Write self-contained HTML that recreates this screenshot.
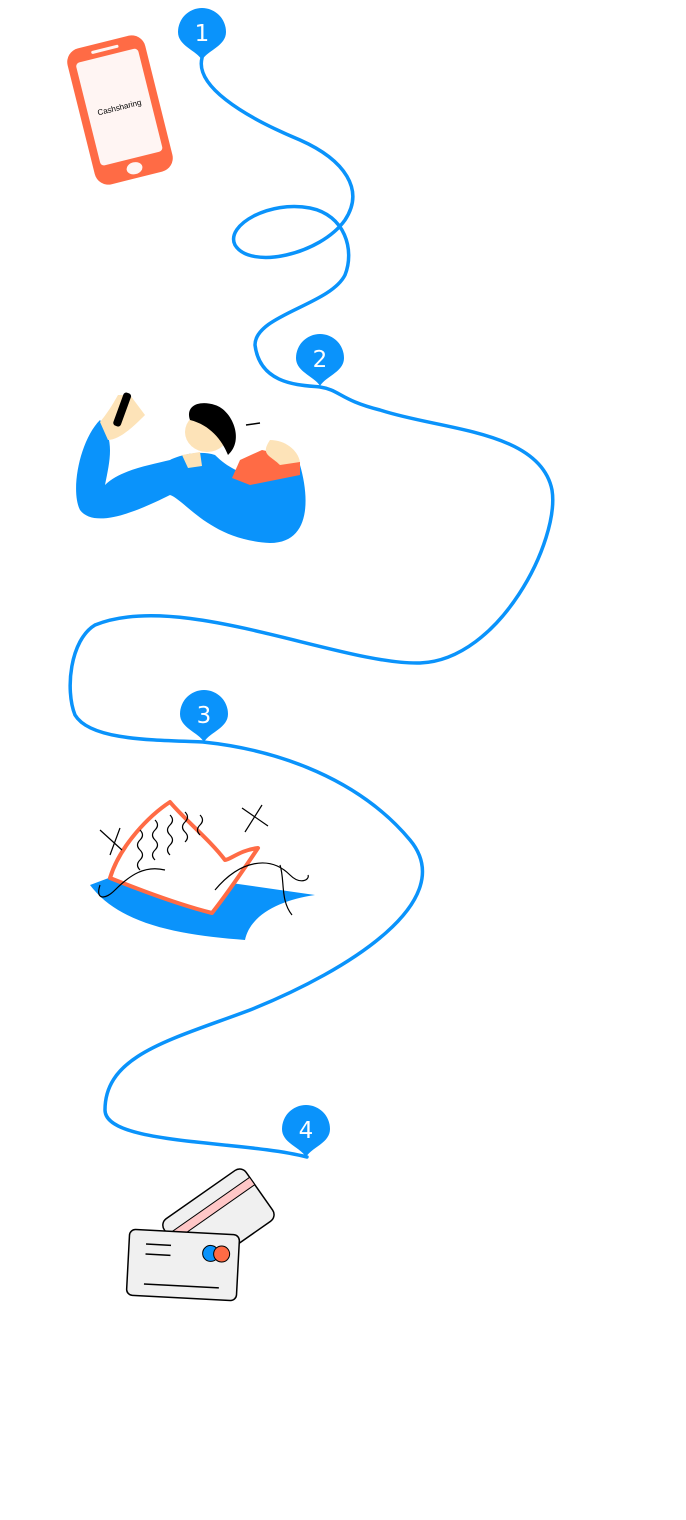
<!DOCTYPE html>
<html><head><meta charset="utf-8"><style>
html,body{margin:0;padding:0;background:#fff;width:686px;height:1520px;overflow:hidden}
svg{display:block}
</style></head><body>
<svg width="686" height="1520" viewBox="0 0 686 1520" xmlns="http://www.w3.org/2000/svg">
<path d="M202,58 C195,85 240,115 300,140 C345,160 365,190 345,220 C320,255 250,270 235,245 C225,225 270,200 310,208 C345,215 355,250 345,275 C330,305 255,315 255,345 C260,385 300,385 320,387 C340,390 340,400 380,410 C440,430 540,430 552,490 C560,540 500,660 420,663 C340,665 180,590 95,625 C70,640 65,690 75,715 C90,740 150,740 203,742 C280,750 360,780 410,840 C460,900 350,970 250,1010 C170,1040 105,1055 105,1110 C105,1145 240,1140 307,1157" fill="none" stroke="#0a93fb" stroke-width="3.5" stroke-linecap="round"/>
<g fill="#0a93fb">
<path d="M202,60 C196,50 178,46 178,32 A24,24 0 1 1 226,32 C226,46 208,50 202,60Z"/>
<path d="M320,386 C314,376 296,372 296,358 A24,24 0 1 1 344,358 C344,372 326,376 320,386Z"/>
<path d="M204,742 C198,732 180,728 180,714 A24,24 0 1 1 228,714 C228,728 210,732 204,742Z"/>
<path d="M306,1157 C300,1147 282,1143 282,1129 A24,24 0 1 1 330,1129 C330,1143 312,1147 306,1157Z"/>
</g>
<g fill="#fff" font-family="DejaVu Sans, sans-serif" font-size="23" text-anchor="middle">
<text x="202" y="41">1</text><text x="320" y="367">2</text><text x="204" y="723">3</text><text x="306" y="1138">4</text>
</g>
<g transform="translate(120,110) rotate(-14)">
<rect x="-40" y="-70" width="80" height="140" rx="14" fill="#ff6b45"/>
<rect x="-32" y="-56" width="64" height="106" rx="4" fill="#fff5f3"/>
<rect x="-14" y="-64" width="28" height="3" rx="1.5" fill="#fff5f3"/>
<ellipse cx="0" cy="60" rx="8" ry="6" fill="#fff5f3"/>
<text x="0" y="0" font-family="Liberation Sans, sans-serif" font-size="8" text-anchor="middle" fill="#000">Cashsharing</text>
</g>
<path d="M100,420 C80,440 70,490 80,510 C95,530 140,510 170,495 C185,500 210,540 270,543 C310,543 310,500 300,465 L290,470 C270,480 240,480 215,455 C200,450 180,455 170,460 C150,465 120,470 105,485 C110,460 115,440 100,420Z" fill="#0a93fb"/>
<path d="M100,422 C110,410 115,400 118,395 L130,395 L145,415 C135,425 120,440 108,440Z" fill="#fde3b8"/>
<rect x="118" y="392" width="8" height="35" rx="3" transform="rotate(20 122 410)" fill="#000"/>
<ellipse cx="207" cy="432" rx="22" ry="20" fill="#fde3b8"/>
<path d="M190,420 C185,405 200,400 215,405 C232,410 245,440 228,455 C222,440 210,425 190,420Z" fill="#000"/>
<path d="M182,455 L200,452 L202,466 L188,468Z" fill="#fde3b8"/>
<path d="M240,460 L262,450 L285,455 L300,462 L300,475 L250,485 L232,478Z" fill="#ff6b45"/>
<path d="M270,440 C285,440 298,450 300,462 L280,465 C270,455 260,455 270,440Z" fill="#fde3b8"/>
<path d="M212,405 L215,415 M246,425 L260,423" stroke="#000" stroke-width="1.5"/>
<path d="M90,885 L130,870 L210,880 L315,895 C280,900 250,915 245,940 C180,935 120,925 90,885Z" fill="#0a93fb"/>
<path d="M170,802 C150,815 120,845 110,878 C140,890 180,905 212,913 C230,890 250,860 258,848 C240,850 230,860 225,860 C210,840 185,820 170,802Z" fill="#fff" stroke="#ff6b45" stroke-width="4" stroke-linejoin="round"/>
<g fill="none" stroke="#000" stroke-width="1.2">
<path d="M140,830 q5,5 0,10 q-5,5 0,10 q5,5 0,10 q-5,5 0,10"/>
<path d="M155,820 q5,5 0,10 q-5,5 0,10 q5,5 0,10 q-5,5 0,10"/>
<path d="M170,815 q5,5 0,10 q-5,5 0,10 q5,5 0,10 q-5,5 0,10"/>
<path d="M185,812 q5,5 0,10 q-5,5 0,10 q5,5 0,10"/>
<path d="M200,815 q5,5 0,10 q-5,5 0,10"/>
<path d="M100,830 L122,850 M110,855 L120,828 M242,808 L268,826 M245,832 L262,805"/>
<path d="M100,885 C95,900 105,900 115,890 C130,875 145,865 165,870 M215,890 C240,860 270,855 290,875 C300,885 310,880 308,875 M280,865 C285,880 280,900 292,915"/>
</g>
<g transform="rotate(-35 215 1215)">
<rect x="165" y="1190" width="100" height="62" rx="8" fill="#f0f0f0" stroke="#000" stroke-width="1.5"/>
<rect x="165" y="1204" width="100" height="9" fill="#ffc7c7" stroke="#000" stroke-width="1"/>
</g>
<g transform="rotate(3 183 1265)">
<rect x="128" y="1232" width="110" height="66" rx="6" fill="#f0f0f0" stroke="#000" stroke-width="1.5"/>
<circle cx="210" cy="1252" r="8" fill="#0a93fb" stroke="#000"/>
<circle cx="221" cy="1252" r="8" fill="#ff6b45" stroke="#000"/>
<path d="M145,1246 h25 M145,1256 h25 M145,1286 h75" stroke="#000" stroke-width="1.5"/>
</g>
</svg>
</body></html>
